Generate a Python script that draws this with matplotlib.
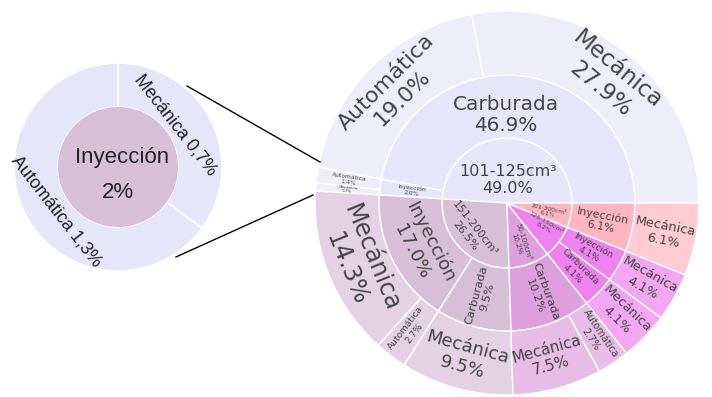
import matplotlib
matplotlib.use('Agg')
import matplotlib.pyplot as plt
from matplotlib.patches import Wedge, Circle
from matplotlib.colors import to_rgb
import numpy as np

# anillo interior: cilindrada
disp_labels = ['101-125cm³', '151-200cm³', '50-100cm³', '126-150cm³', '201-300cm³']
disp_pct = [49.0, 26.5, 10.2, 8.2, 6.1]

# anillo medio: alimentación
fuel_parent = [0, 0, 1, 1, 2, 3, 3, 4]
fuel_labels = ['Carburada', 'Inyección', 'Inyección', 'Carburada', 'Carburada',
               'Carburada', 'Inyección', 'Inyección']
fuel_pct = [46.9, 2.0, 17.0, 9.5, 10.2, 4.1, 4.1, 6.1]

# anillo exterior: transmisión
trans_parent = [0, 0, 1, 1, 2, 2, 3, 4, 4, 5, 6, 7]
trans_labels = ['Mecánica', 'Automática', 'Automática', 'Mecánica', 'Mecánica', 'Automática',
                'Mecánica', 'Mecánica', 'Automática', 'Mecánica', 'Mecánica', 'Mecánica']
trans_pct = [27.9, 19.0, 1.4, 0.7, 14.3, 2.7, 9.5, 7.5, 2.7, 4.1, 4.1, 6.1]

# detalle: Inyección de 101-125cm³
zoom_title = 'Inyección'
zoom_total = '2%'
zoom_labels = ['Mecánica 0,7%', 'Automática 1,3%']
zoom_vals = [0.7, 1.3]

# estilos
disp_colors = ['lavender', 'thistle', 'plum', 'violet', 'lightpink']
TXT = '#444444'
W, H = 712, 397
cx, cy = 507, H - 203
radii = [0, 65, 128, 192]

# (orientación, tamaño px, radio, ángulo) ; None = centro del sector
disp_style = [('h', 16, 23, 88), ('t', 11, 47, 218), ('r', 7, 42, 288),
              ('r', 6.5, 44, 330), ('r', 6, 42, 348)]
fuel_style = [('h', 20, 88, 91), ('r', 6, None, None), ('t', 18.5, None, None),
              ('r', 11.5, None, None), ('r', 11.5, None, None), ('r', 9, None, None),
              ('r', 9, None, None), ('r', 11, None, None)]
trans_style = [('t', 23, None, None), ('t', 22, None, None), ('r', 6, None, None),
               ('r', 4, None, None), ('t', 24, None, None), ('r', 9, None, None),
               ('t', 18, None, None), ('t', 15, None, None), ('r', 9.6, None, None),
               ('r', 13, None, None), ('r', 13, None, None), ('r', 13, None, None)]


def leaf(c):
    return tuple(0.7 * np.array(to_rgb(c)) + 0.3)


def child_spans(parents, vals, pspans):
    out, cur = [], {}
    for p, v in zip(parents, vals):
        a0, a1 = pspans[p]
        tot = sum(vv for pp, vv in zip(parents, vals) if pp == p)
        s = cur.get(p, a0)
        e = s + (a1 - a0) * v / tot
        cur[p] = e
        out.append((s, e))
    return out


def put_label(text, span, ring, style):
    orient, px, r, ang = style
    if ang is None:
        ang = (span[0] + span[1]) / 2
    if r is None:
        r = (radii[ring] + radii[ring + 1]) / 2
    x = cx + r * np.cos(np.radians(ang))
    y = cy + r * np.sin(np.radians(ang))
    if orient == 'h':
        rot = 0
    elif orient == 'r':
        rot = ang
    else:
        rot = ang - 90
    rot = (rot + 180) % 360 - 180
    if rot > 90:
        rot -= 180
    elif rot < -90:
        rot += 180
    ax.text(x, y, text, rotation=rot, rotation_mode='anchor', ha='center', va='center',
            fontsize=px * 0.72, color=TXT, linespacing=1.15)


fig = plt.figure(figsize=(W / 100, H / 100), dpi=100)
ax = fig.add_axes([0, 0, 1, 1])
ax.set_xlim(0, W)
ax.set_ylim(0, H)
ax.axis('off')

tot = sum(disp_pct)
acc = np.cumsum([0] + disp_pct) / tot * 360
disp_spans = [(acc[i], acc[i + 1]) for i in range(len(disp_pct))]
fuel_spans = child_spans(fuel_parent, fuel_pct, disp_spans)
fuel_root = fuel_parent
trans_spans = child_spans(trans_parent, trans_pct, fuel_spans)

for i, (a0, a1) in enumerate(disp_spans):
    ax.add_patch(Wedge((cx, cy), radii[1], a0, a1, facecolor=disp_colors[i],
                       edgecolor='white', lw=1))
    put_label(f'{disp_labels[i]}\n{disp_pct[i]:.1f}%', (a0, a1), 0, disp_style[i])

for i, (a0, a1) in enumerate(fuel_spans):
    col = disp_colors[fuel_parent[i]]
    ax.add_patch(Wedge((cx, cy), radii[2], a0, a1, width=radii[2] - radii[1],
                       facecolor=col, edgecolor='white', lw=1))
    put_label(f'{fuel_labels[i]}\n{fuel_pct[i]:.1f}%', (a0, a1), 1, fuel_style[i])

for i, (a0, a1) in enumerate(trans_spans):
    col = leaf(disp_colors[fuel_parent[trans_parent[i]]])
    ax.add_patch(Wedge((cx, cy), radii[3], a0, a1, width=radii[3] - radii[2],
                       facecolor=col, edgecolor='white', lw=1))
    put_label(f'{trans_labels[i]}\n{trans_pct[i]:.1f}%', (a0, a1), 2, trans_style[i])

# donut de detalle
zx, zy, zr, zin = 118, H - 167, 104, 60
start = 90
zf = 'Liberation Sans'
for lab, v, pos in zip(zoom_labels, zoom_vals, [(36, 71, -52), (216, 76, -52)]):
    sweep = v / sum(zoom_vals) * 360
    ax.add_patch(Wedge((zx, zy), zr, start - sweep, start, width=zr - zin,
                       facecolor='lavender', edgecolor='white', lw=1.2))
    start -= sweep
    a, r, rot = pos
    ax.text(zx + r * np.cos(np.radians(a)), zy + r * np.sin(np.radians(a)), lab,
            rotation=rot, rotation_mode='anchor', ha='center', va='center',
            fontsize=13, family=zf, color='#222222')
ax.add_patch(Circle((zx, zy), zin, facecolor='thistle', edgecolor='none'))
ax.text(zx + 4, zy + 10, zoom_title, ha='center', va='center', fontsize=16,
        family=zf, color='#222222')
ax.text(zx, zy - 25, zoom_total, ha='center', va='center', fontsize=16,
        family=zf, color='#222222')

# líneas de conexión
ax.plot([187, 320], [H - 86, H - 162], color='black', lw=1)
ax.plot([176, 313], [H - 257, H - 195], color='black', lw=1)

fig.savefig('out.png', dpi=100)
